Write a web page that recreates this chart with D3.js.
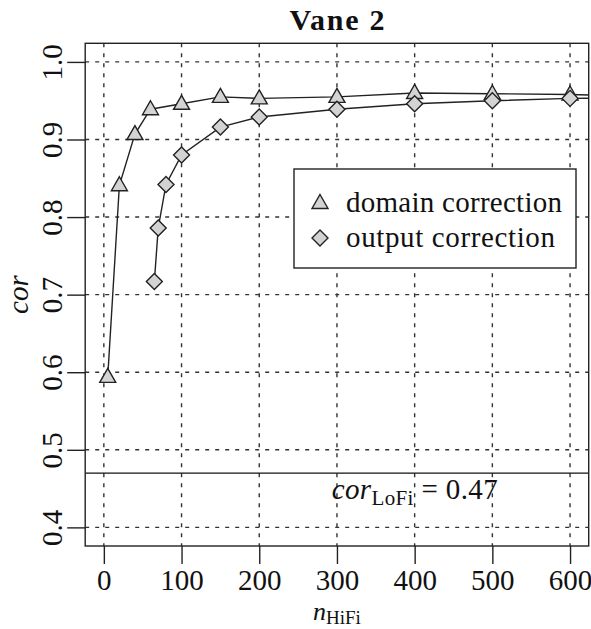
<!DOCTYPE html>
<html>
<head>
<meta charset="utf-8">
<script src="https://cdn.jsdelivr.net/npm/d3@7"></script>
<style>
  body { margin: 0; background: #fff; }
  svg { display: block; }
</style>
</head>
<body>
<svg id="chart" width="591" height="629"></svg>
<script>
// values
var domainX = [5, 20, 40, 60, 100, 150, 200, 300, 400, 500, 600, 700];
var domainCor = [0.594, 0.841, 0.907, 0.939, 0.946, 0.955, 0.953, 0.955, 0.960, 0.959, 0.958, 0.955];
var outputX = [65, 70, 80, 100, 150, 200, 300, 400, 500, 600, 700];
var outputCor = [0.717, 0.786, 0.842, 0.880, 0.916, 0.929, 0.939, 0.946, 0.950, 0.953, 0.954];
var xTicks = [0, 100, 200, 300, 400, 500, 600];
var yTicks = [0.4, 0.5, 0.6, 0.7, 0.8, 0.9, 1.0];
var corLoFi = 0.47;
var legendLabels = ["domain correction", "output correction"];

// find an installed serif face (canvas width test)
var ctx = document.createElement("canvas").getContext("2d");
function w(f) { ctx.font = "40px " + f; return ctx.measureText("domain correction 0.47").width; }
var serif = ["Liberation Serif", "Tinos", "Times New Roman", "DejaVu Serif", "Noto Serif"].find(function(f) {
  return w("'" + f + "', monospace") !== w("monospace") || w("'" + f + "', sans-serif") !== w("sans-serif");
}) || "serif";
var font = "'" + serif + "', serif";
var wide = serif.indexOf("DejaVu") >= 0;
var fs = wide ? 25 : 29, fsSub = wide ? 18 : 21;

var width = 591, height = 629;
var margin = {top: 43.3, right: 2.3, bottom: 83, left: 85.2};

var svg = d3.select("#chart").style("font-family", font);

// R-style 4% padding on both axes
var x = d3.scaleLinear()
    .domain([0 - 0.04 * 600, 600 + 0.04 * 600])
    .range([margin.left, width - margin.right]);
var y = d3.scaleLinear()
    .domain([0.4 - 0.04 * 0.6, 1.0 + 0.04 * 0.6])
    .range([height - margin.bottom, margin.top]);

svg.append("defs").append("clipPath").attr("id", "plotClip")
  .append("rect")
    .attr("x", x.range()[0]).attr("y", y.range()[1])
    .attr("width", x.range()[1] - x.range()[0])
    .attr("height", y.range()[0] - y.range()[1]);

// grid
var grid = svg.append("g")
    .attr("stroke", "#333")
    .attr("stroke-width", 1.4)
    .attr("stroke-dasharray", "4,6");
grid.selectAll(".vg").data(xTicks).enter().append("line")
    .attr("x1", function(d) { return x(d); }).attr("x2", function(d) { return x(d); })
    .attr("y1", y.range()[1]).attr("y2", y.range()[0]);
grid.selectAll(".hg").data(yTicks).enter().append("line")
    .attr("y1", function(d) { return y(d); }).attr("y2", function(d) { return y(d); })
    .attr("x1", x.range()[0]).attr("x2", x.range()[1]);

// LoFi reference line
svg.append("line")
    .attr("x1", x.range()[0]).attr("x2", x.range()[1])
    .attr("y1", y(corLoFi)).attr("y2", y(corLoFi))
    .attr("stroke", "#111").attr("stroke-width", 1.4);

var lofi = svg.append("text")
    .attr("x", x(400)).attr("y", y(0.45) + 10)
    .attr("text-anchor", "middle")
    .attr("font-size", fs).attr("fill", "#111")
    .attr("textLength", 166).attr("lengthAdjust", "spacing");
lofi.append("tspan").attr("font-style", "italic").text("cor");
lofi.append("tspan").attr("font-size", fsSub).attr("dy", 6).text("LoFi");
lofi.append("tspan").attr("dy", -6).text(" = " + corLoFi);

// series
var line = d3.line()
    .x(function(d) { return x(d[0]); })
    .y(function(d) { return y(d[1]); });

var domainData = d3.zip(domainX, domainCor);
var outputData = d3.zip(outputX, outputCor);

var plot = svg.append("g").attr("clip-path", "url(#plotClip)");

plot.append("path").datum(domainData)
    .attr("d", line).attr("fill", "none")
    .attr("stroke", "#222").attr("stroke-width", 1.4);
plot.append("path").datum(outputData)
    .attr("d", line).attr("fill", "none")
    .attr("stroke", "#222").attr("stroke-width", 1.4);

var triangle = "M0,-8.5L8,5.5L-8,5.5Z";
var diamond = "M0,-8L8,0L0,8L-8,0Z";

plot.selectAll(".tri").data(domainData).enter().append("path")
    .attr("d", triangle)
    .attr("transform", function(d) { return "translate(" + x(d[0]) + "," + y(d[1]) + ")"; })
    .attr("fill", "#d3d3d3").attr("stroke", "#222").attr("stroke-width", 1.4);
plot.selectAll(".dia").data(outputData).enter().append("path")
    .attr("d", diamond)
    .attr("transform", function(d) { return "translate(" + x(d[0]) + "," + y(d[1]) + ")"; })
    .attr("fill", "#d3d3d3").attr("stroke", "#222").attr("stroke-width", 1.4);

// box
svg.append("rect")
    .attr("x", x.range()[0]).attr("y", y.range()[1])
    .attr("width", x.range()[1] - x.range()[0])
    .attr("height", y.range()[0] - y.range()[1])
    .attr("fill", "none").attr("stroke", "#222").attr("stroke-width", 1.4);

// axes
var xAxis = svg.append("g")
    .attr("transform", "translate(0," + y.range()[0] + ")")
    .call(d3.axisBottom(x).tickValues(xTicks).tickSize(18).tickPadding(7).tickSizeOuter(0));
xAxis.attr("font-family", null).attr("font-size", null);
xAxis.select(".domain").remove();
xAxis.selectAll("line").attr("stroke", "#222").attr("stroke-width", 1.4);
xAxis.selectAll("text").attr("font-size", fs).attr("fill", "#111")
    .attr("dy", null).attr("y", 44);

var yAxis = svg.append("g")
    .attr("transform", "translate(" + x.range()[0] + ",0)")
    .call(d3.axisLeft(y).tickValues(yTicks).tickSize(18).tickFormat(d3.format(".1f")).tickSizeOuter(0));
yAxis.attr("font-family", null).attr("font-size", null);
yAxis.select(".domain").remove();
yAxis.selectAll("line").attr("stroke", "#222").attr("stroke-width", 1.4);
yAxis.selectAll("text")
    .attr("font-size", fs).attr("fill", "#111")
    .attr("x", null).attr("dy", null)
    .attr("text-anchor", "middle")
    .attr("transform", "translate(" + (62 - x.range()[0]) + ",0) rotate(-90)");

// title and axis labels
svg.append("text")
    .attr("x", (x.range()[0] + x.range()[1]) / 2).attr("y", 30)
    .attr("text-anchor", "middle").attr("font-size", fs + 1).attr("font-weight", "bold")
    .attr("fill", "#111").attr("textLength", 95).attr("lengthAdjust", "spacing")
    .text("Vane 2");

var xl = svg.append("text")
    .attr("x", (x.range()[0] + x.range()[1]) / 2).attr("y", 620)
    .attr("text-anchor", "middle").attr("font-size", fs - 3).attr("fill", "#111");
xl.append("tspan").attr("font-style", "italic").text("n");
xl.append("tspan").attr("font-size", fsSub - 2).attr("dy", 4).text("HiFi");

svg.append("text")
    .attr("transform", "translate(28," + (y.range()[0] + y.range()[1]) / 2 + ") rotate(-90)")
    .attr("text-anchor", "middle").attr("font-size", fs).attr("font-style", "italic")
    .attr("fill", "#111").text("cor");

// legend
var legend = svg.append("g").attr("transform", "translate(294,169)");
legend.append("rect")
    .attr("width", 282).attr("height", 99)
    .attr("fill", "#fff").attr("stroke", "#222").attr("stroke-width", 1.4);
var shapes = [triangle, diamond];
var lengths = [216, 209];
legendLabels.forEach(function(lbl, i) {
  var row = legend.append("g").attr("transform", "translate(0," + (34 + i * 35) + ")");
  row.append("path").attr("d", shapes[i])
      .attr("transform", "translate(26,0)")
      .attr("fill", "#d3d3d3").attr("stroke", "#222").attr("stroke-width", 1.4);
  row.append("text").attr("x", 52).attr("y", 9)
      .attr("font-size", fs).attr("fill", "#111")
      .attr("textLength", lengths[i]).attr("lengthAdjust", "spacing")
      .text(lbl);
});
</script>
</body>
</html>
